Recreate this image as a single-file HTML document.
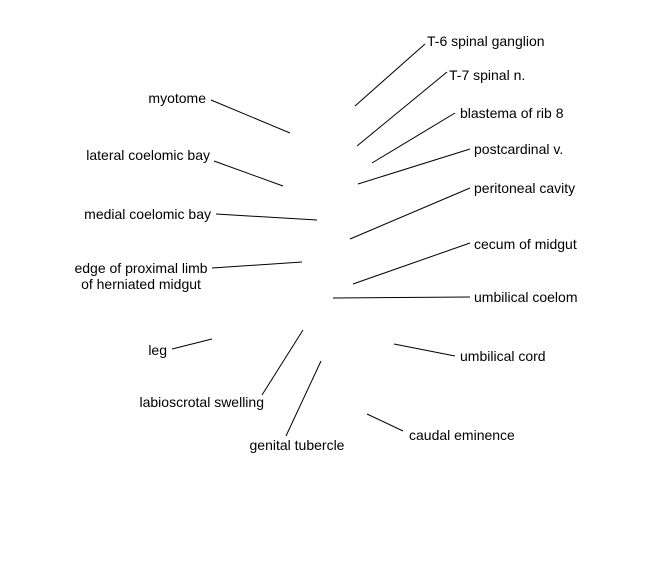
<!DOCTYPE html>
<html><head><style>body{margin:0;background:#fff}svg{display:block}text{font-family:"Liberation Sans",Arial,sans-serif;font-size:14px;fill:#000}</style></head>
<body>
<svg width="648" height="576" viewBox="0 0 648 576" xmlns="http://www.w3.org/2000/svg">
<g stroke="#000" stroke-width="1" fill="none">
<line x1="425" y1="44" x2="355" y2="106"/>
<line x1="447" y1="72" x2="357" y2="146"/>
<line x1="455" y1="113" x2="372" y2="163"/>
<line x1="470" y1="149" x2="358" y2="184"/>
<line x1="470" y1="188" x2="350" y2="239"/>
<line x1="470" y1="243" x2="353" y2="284"/>
<line x1="470" y1="297" x2="333" y2="298"/>
<line x1="455" y1="356" x2="394" y2="344"/>
<line x1="403" y1="431" x2="367" y2="414"/>
<line x1="286" y1="436" x2="321" y2="361"/>
<line x1="262" y1="395" x2="303" y2="330"/>
<line x1="172" y1="349" x2="212" y2="339"/>
<line x1="212" y1="268" x2="302" y2="262"/>
<line x1="216" y1="214" x2="317" y2="220"/>
<line x1="214" y1="161" x2="283" y2="186"/>
<line x1="211" y1="100" x2="290" y2="133"/>
</g>
<text x="427" y="46">T-6 spinal ganglion</text>
<text x="449" y="80">T-7 spinal n.</text>
<text x="460" y="118">blastema of rib 8</text>
<text x="474" y="154">postcardinal v.</text>
<text x="474" y="193">peritoneal cavity</text>
<text x="474" y="249">cecum of midgut</text>
<text x="474" y="302">umbilical coelom</text>
<text x="460" y="361">umbilical cord</text>
<text x="409" y="440">caudal eminence</text>
<text x="297" y="450" text-anchor="middle">genital tubercle</text>
<text x="264" y="407" text-anchor="end">labioscrotal swelling</text>
<text x="167" y="355" text-anchor="end">leg</text>
<text x="141" y="273" text-anchor="middle">edge of proximal limb</text>
<text x="141" y="289" text-anchor="middle">of herniated midgut</text>
<text x="211" y="219" text-anchor="end">medial coelomic bay</text>
<text x="210" y="160" text-anchor="end">lateral coelomic bay</text>
<text x="206" y="103" text-anchor="end">myotome</text>
</svg>
</body></html>
